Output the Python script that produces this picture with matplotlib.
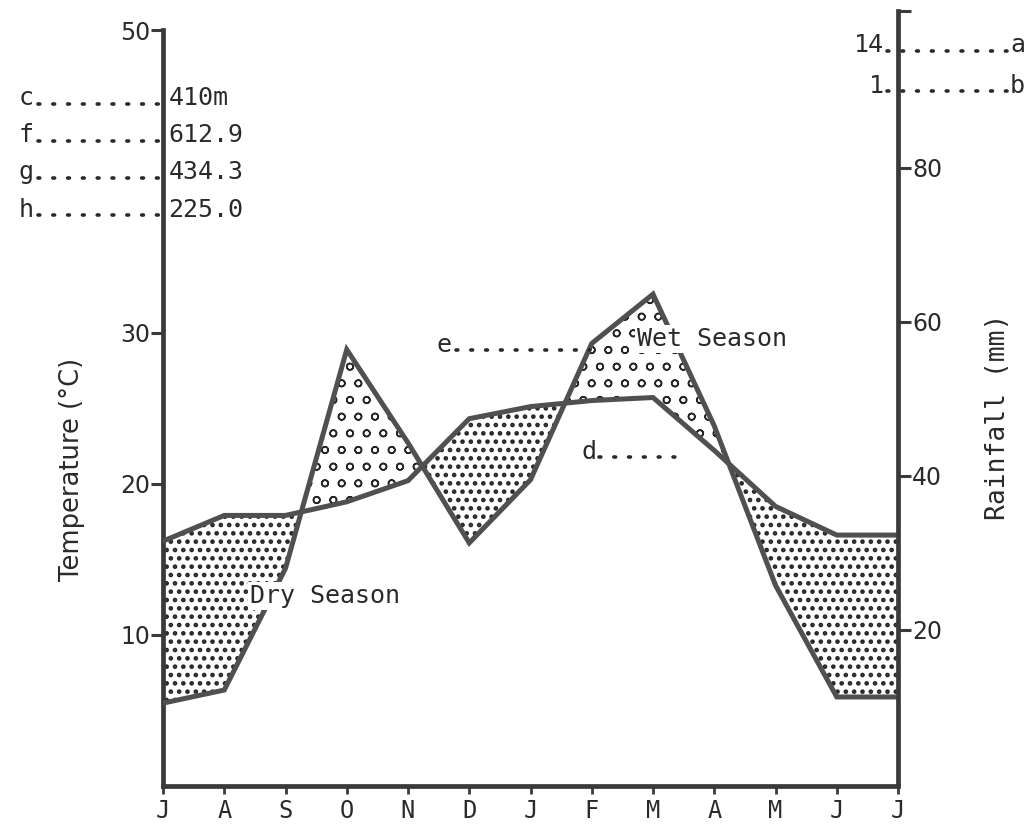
import numpy as np
import matplotlib
matplotlib.use("Agg")
import matplotlib.pyplot as plt

# Monthly climate data, July to July
months = ['J', 'A', 'S', 'O', 'N', 'D', 'J', 'F', 'M', 'A', 'M', 'J', 'J']
temp_c = [16.2, 17.9, 17.9, 18.8, 20.2, 24.3, 25.1, 25.5, 25.7, 22.2, 18.5, 16.6, 16.6]
rain_mm = [10.5, 12.2, 28.0, 56.4, 44.3, 31.3, 39.5, 57.2, 63.6, 46.5, 25.8, 11.3, 11.3]

temp_ticks = [10, 20, 30, 50]
rain_ticks = [20, 40, 60, 80]

station_rows = [('c', '410m'), ('f', '612.9'), ('g', '434.3'), ('h', '225.0')]
top_rows = [('14', 'a'), ('1', 'b')]

MONO = 'DejaVu Sans Mono'
SANS = 'DejaVu Sans'
INK = '#3a3a3a'
LINE = '#505050'
TXT = '#2a2a2a'

fig = plt.figure(figsize=(10.33, 8.30), dpi=100)
ax = fig.add_axes([163 / 1033, 1 - 786 / 830, 735 / 1033, 783 / 830])
ax2 = ax.twinx()

x = np.arange(len(months))
ax.set_xlim(0, len(months) - 1)
ax.set_ylim(0, 51.8)
ax2.set_ylim(-0.26, 101.4)

# rainfall expressed in the temperature axis' units, via the two axis scales
pts = ax2.transData.transform(np.column_stack([x, rain_mm]))
rain_t = ax.transData.inverted().transform(pts)[:, 1]
temp = np.asarray(temp_c, dtype=float)


def hatched(where, pattern, hatch_lw):
    with plt.rc_context({'hatch.linewidth': hatch_lw}):
        coll = ax.fill_between(x, temp, rain_t, where=where, interpolate=True,
                               facecolor='white', edgecolor='#262626',
                               hatch=pattern, linewidth=0, zorder=1)
    if hasattr(coll, 'set_hatch_linewidth'):
        coll.set_hatch_linewidth(hatch_lw)
    return coll


# dry season: temperature above rainfall; wet season: rainfall above temperature
hatched(temp >= rain_t, '..', 2.1)
hatched(rain_t >= temp, 'o', 1.1)

ax.plot(x, temp, color=LINE, lw=3.6, solid_joinstyle='miter', zorder=3)
ax.plot(x, rain_t, color=LINE, lw=3.6, solid_joinstyle='miter', zorder=3)

# spines and ticks
for a in (ax, ax2):
    a.spines['top'].set_visible(False)
    a.patch.set_visible(False)
ax.spines['right'].set_visible(False)
ax2.spines['left'].set_visible(False)
ax2.spines['bottom'].set_visible(False)
ax.spines['left'].set_bounds(0, 50)
ax2.spines['right'].set_bounds(0, 100.3)
for sp in (ax.spines['left'], ax.spines['bottom'], ax2.spines['right']):
    sp.set_linewidth(3.4)
    sp.set_color(INK)

ax.set_yticks(temp_ticks)
ax.set_yticklabels([str(t) for t in temp_ticks], fontfamily=SANS, fontsize=17)
ax.tick_params(axis='y', direction='out', length=9, width=2.2, color=INK,
               pad=0, labelcolor=TXT)

ax2.set_yticks(rain_ticks + [100.3])
ax2.set_yticklabels([str(t) for t in rain_ticks] + [''], fontfamily=SANS, fontsize=17)
ax2.tick_params(axis='y', direction='out', length=9, width=2.2, color=INK,
                pad=1, labelcolor=TXT)

ax.set_xticks(x)
ax.set_xticklabels(months, fontfamily=MONO, fontsize=17)
ax.tick_params(axis='x', direction='out', length=6, width=2.0, color=INK,
               pad=3, labelcolor=TXT)

ax.set_ylabel('Temperature (°C)', fontfamily=SANS, fontsize=18.5, color=TXT)
ax.yaxis.set_label_coords(-0.106, 0.404)
ax2.set_ylabel('Rainfall (mm)', fontfamily=MONO, fontsize=19, color=TXT,
               rotation=90)
ax2.yaxis.set_label_coords(1.118, 0.471)

dot_style = dict(color=TXT, lw=2.6, linestyle=(0, (0.5, 3.6)),
                 dash_capstyle='round', clip_on=False, zorder=4)
txt = dict(fontfamily=MONO, fontsize=18, color=TXT, va='center')

# station information, left margin
for (letter, value), yv in zip(station_rows, [45.5, 43.05, 40.6, 38.1]):
    ax.text(-2.36, yv, letter, ha='left', clip_on=False, **txt)
    ax.plot([-2.04, -0.03], [yv - 0.35, yv - 0.35], **dot_style)
    ax.text(0.09, yv, value, ha='left', clip_on=False, **txt)

# top-right entries
for (value, letter), yv in zip(top_rows, [49.0, 46.3]):
    ax.text(11.77, yv, value, ha='right', clip_on=False, **txt)
    ax.plot([11.82, 13.78], [yv - 0.35, yv - 0.35], **dot_style)
    ax.text(13.83, yv, letter, ha='left', clip_on=False, **txt)

# e and d leaders
ax.text(4.47, 29.2, 'e', ha='left', **txt)
ax.plot([4.78, 6.97], [28.85, 28.85], **dot_style)
ax.text(6.84, 22.1, 'd', ha='left', **txt)
ax.plot([7.12, 8.44], [21.75, 21.75], **dot_style)

box = dict(facecolor='white', edgecolor='none', pad=1.5)
ax.text(7.74, 29.6, 'Wet Season', ha='left', bbox=box, zorder=5, **txt)
ax.text(1.42, 12.6, 'Dry Season', ha='left', bbox=box, zorder=5, **txt)

fig.savefig('out.png', dpi=100, facecolor='white')
